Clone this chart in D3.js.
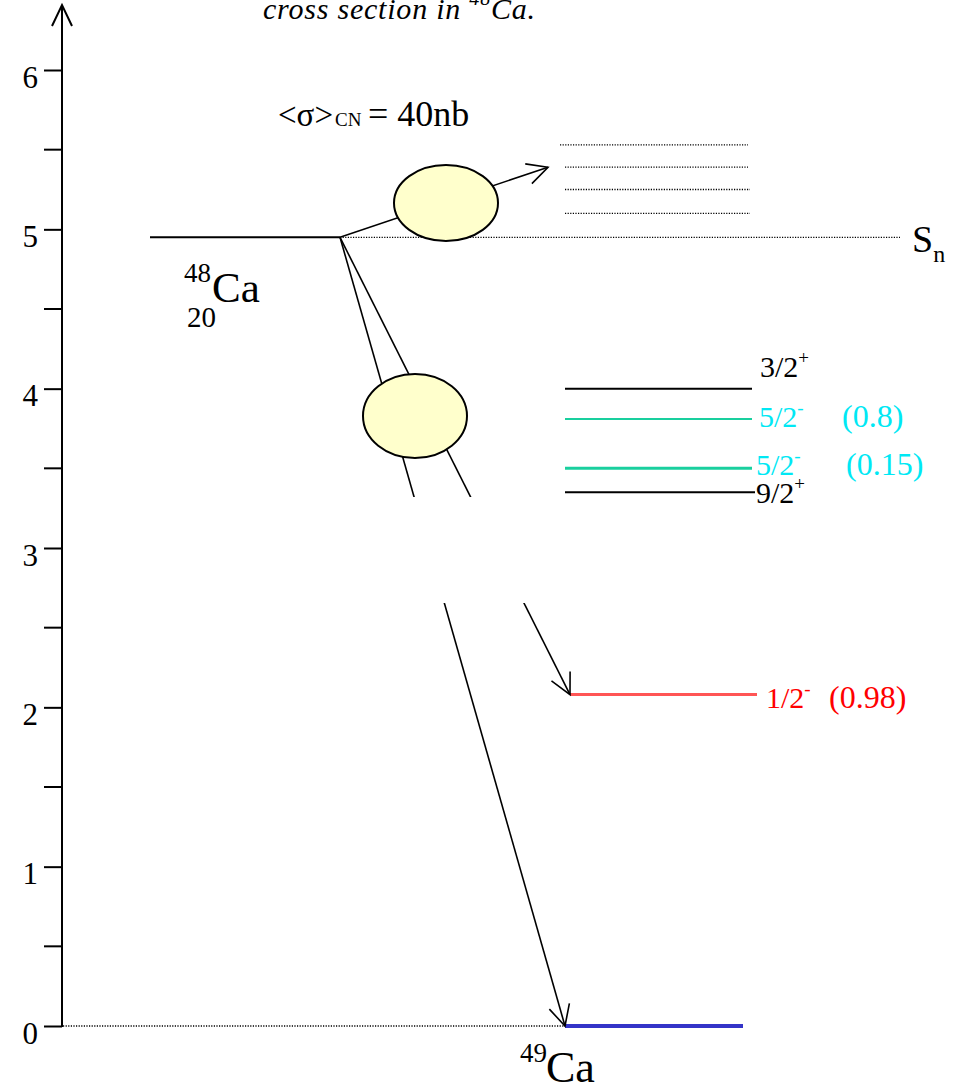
<!DOCTYPE html>
<html>
<head>
<meta charset="utf-8">
<script src="https://cdn.jsdelivr.net/npm/d3@7/dist/d3.min.js"></script>
<style>
  body { margin: 0; background: #fff; }
  svg text { font-family: "Liberation Serif", "Times New Roman", serif; }
</style>
</head>
<body>
<svg id="scheme" width="956" height="1088" font-family="Liberation Serif"></svg>
<script>
// energies in MeV
var majorTicks = [0, 1, 2, 3, 4, 5, 6];
var minorTicks = [0.5, 1.5, 2.5, 3.5, 4.5, 5.5];
var snEnergy = 4.95;                       // 48Ca + n threshold
var continuum = [5.53, 5.39, 5.25, 5.10];  // dotted levels above Sn
var levelEnergy = [4.00, 3.81, 3.50, 3.35, 2.08, 0];
var levelSpin = ["3/2", "5/2", "5/2", "9/2", "1/2", ""];
var levelParity = ["+", "-", "-", "+", "-", ""];
var levelStrength = ["", "(0.8)", "(0.15)", "", "(0.98)", ""];

!(function (d3) {
  var svg = d3.select("#scheme");

  var y = d3.scaleLinear().domain([0, 6]).range([1026, 70]);
  var axisX = 62;

  // look of each level, same order as levelEnergy
  var levelLook = [
    { line: "#000", text: "#000", w: 2, x1: 565, x2: 752, lx: 760, ly: -12, sx: 0 },
    { line: "#19cf9e", text: "#00e8f4", w: 2, x1: 565, x2: 752, lx: 759, ly: 8, sx: 842 },
    { line: "#19cf9e", text: "#00e8f4", w: 3, x1: 565, x2: 752, lx: 756, ly: 7, sx: 846 },
    { line: "#000", text: "#000", w: 2, x1: 565, x2: 755, lx: 756, ly: 11, sx: 0 },
    { line: "#ff5555", text: "#ff0000", w: 3, x1: 570, x2: 757, lx: 766, ly: 13, sx: 829 },
    { line: "#3434c8", text: "#000", w: 4, x1: 565, x2: 743, lx: 0, ly: 0, sx: 0 }
  ];

  // ---- energy axis
  var axis = svg.append("g")
    .attr("transform", "translate(" + axisX + ",0)")
    .call(d3.axisLeft(y).tickValues(majorTicks).tickSize(18).tickPadding(6)
      .tickFormat(d3.format("d")));
  axis.attr("font-family", null);
  axis.select(".domain").remove();
  axis.selectAll(".tick line").attr("stroke", "#000").attr("stroke-width", 2);
  axis.selectAll(".tick text")
    .attr("dy", "0.55em")
    .style("font-size", "31px")
    .attr("fill", "#000");

  svg.append("g").selectAll("line")
    .data(minorTicks)
    .enter().append("line")
    .attr("x1", axisX - 18).attr("x2", axisX)
    .attr("y1", function (d) { return y(d); })
    .attr("y2", function (d) { return y(d); })
    .attr("stroke", "#000").attr("stroke-width", 2);

  svg.append("line")
    .attr("x1", axisX).attr("x2", axisX)
    .attr("y1", y(0) + 1).attr("y2", 5)
    .attr("stroke", "#000").attr("stroke-width", 2);
  svg.append("path")
    .attr("d", "M" + (axisX - 10) + ",26L" + axisX + ",5L" + (axisX + 10) + ",26")
    .attr("fill", "none").attr("stroke", "#000").attr("stroke-width", 2);

  // ---- title, cut by the top of the picture
  var title = svg.append("text")
    .attr("x", 263).attr("y", 19)
    .attr("textLength", 272).attr("lengthAdjust", "spacing")
    .style("font-size", "30px").style("font-style", "italic");
  title.append("tspan").text("cross section in ");
  title.append("tspan").attr("dy", -14).style("font-size", "20px").text("48");
  title.append("tspan").attr("dy", 14).text("Ca.");

  var sigma = svg.append("text")
    .attr("y", 126);
  sigma.append("tspan").attr("x", 278).style("font-size", "33px").text("<\u03c3>");
  sigma.append("tspan").attr("x", 335).style("font-size", "19px").text("CN");
  sigma.append("tspan").attr("x", 368).style("font-size", "36px").text("= 40nb");

  // ---- dotted lines: ground energy, Sn, continuum
  function dotted(x1, x2, yy) {
    svg.append("line")
      .attr("x1", x1).attr("x2", x2)
      .attr("y1", yy).attr("y2", yy)
      .attr("stroke", "#000").attr("stroke-width", 1.3)
      .attr("stroke-dasharray", "1.2,1.4");
  }
  dotted(axisX + 1, 565, y(0));
  dotted(340, 900, y(snEnergy));
  var contX = [[560, 748], [565, 748], [565, 750], [565, 750]];
  continuum.forEach(function (e, i) { dotted(contX[i][0], contX[i][1], y(e)); });

  // ---- target + n entrance level
  svg.append("line")
    .attr("x1", 150).attr("x2", 340)
    .attr("y1", y(snEnergy)).attr("y2", y(snEnergy))
    .attr("stroke", "#000").attr("stroke-width", 2);

  var sn = svg.append("text").attr("x", 912).attr("y", y(snEnergy) + 15).style("font-size", "38px");
  sn.append("tspan").text("S");
  sn.append("tspan").attr("dy", 10).style("font-size", "24px").text("n");

  svg.append("text").attr("x", 184).attr("y", 282).style("font-size", "27px").text("48");
  svg.append("text").attr("x", 212).attr("y", 302).style("font-size", "43px").text("Ca");
  svg.append("text").attr("x", 187).attr("y", 327).style("font-size", "29px").text("20");

  // ---- final levels of 49Ca
  var levels = svg.append("g").selectAll("g")
    .data(levelEnergy.map(function (e, i) { return { e: e, i: i }; }))
    .enter().append("g");

  levels.append("line")
    .attr("x1", function (d) { return levelLook[d.i].x1; })
    .attr("x2", function (d) { return levelLook[d.i].x2; })
    .attr("y1", function (d) { return y(d.e); })
    .attr("y2", function (d) { return y(d.e); })
    .attr("stroke", function (d) { return levelLook[d.i].line; })
    .attr("stroke-width", function (d) { return levelLook[d.i].w; });

  levels.filter(function (d) { return levelSpin[d.i] !== ""; })
    .append("text")
    .attr("x", function (d) { return levelLook[d.i].lx; })
    .attr("y", function (d) { return y(d.e) + levelLook[d.i].ly; })
    .attr("fill", function (d) { return levelLook[d.i].text; })
    .style("font-size", "30px")
    .each(function (d) {
      var t = d3.select(this);
      t.append("tspan").text(levelSpin[d.i]);
      t.append("tspan").attr("dy", -13).style("font-size", "19px").text(levelParity[d.i]);
    });

  levels.filter(function (d) { return levelStrength[d.i] !== ""; })
    .append("text")
    .attr("x", function (d) { return levelLook[d.i].sx; })
    .attr("y", function (d) { return y(d.e) + levelLook[d.i].ly; })
    .attr("fill", function (d) { return levelLook[d.i].text; })
    .style("font-size", "32px")
    .text(function (d) { return levelStrength[d.i]; });

  svg.append("text").attr("x", 520).attr("y", 1062).style("font-size", "27px").text("49");
  svg.append("text").attr("x", 546).attr("y", 1082).style("font-size", "44px").text("Ca");

  // ---- capture paths
  function arrow(x1, y1, x2, y2) {
    var a = Math.atan2(y2 - y1, x2 - x1) + Math.PI, len = 23, h = 0.47;
    svg.append("line")
      .attr("x1", x1).attr("y1", y1).attr("x2", x2).attr("y2", y2)
      .attr("stroke", "#000").attr("stroke-width", 1.6);
    svg.append("path")
      .attr("d", "M" + (x2 + len * Math.cos(a - h)) + "," + (y2 + len * Math.sin(a - h)) +
        "L" + x2 + "," + y2 +
        "L" + (x2 + len * Math.cos(a + h)) + "," + (y2 + len * Math.sin(a + h)))
      .attr("fill", "none").attr("stroke", "#000").attr("stroke-width", 1.6);
  }
  var ox = 340, oy = y(snEnergy);
  arrow(ox, oy, 548, y(continuum[1]));
  arrow(ox, oy, 570, y(levelEnergy[4]));
  arrow(ox, oy, 565, y(levelEnergy[5]));

  // the two gamma lines are broken in the middle
  svg.append("rect")
    .attr("x", 395).attr("y", 497).attr("width", 150).attr("height", 106)
    .attr("fill", "#fff");

  svg.append("ellipse")
    .attr("cx", 446).attr("cy", 203).attr("rx", 52).attr("ry", 38)
    .attr("fill", "#ffffcc").attr("stroke", "#000").attr("stroke-width", 2);
  svg.append("ellipse")
    .attr("cx", 415).attr("cy", 416).attr("rx", 52).attr("ry", 42)
    .attr("fill", "#ffffcc").attr("stroke", "#000").attr("stroke-width", 2);

})(d3);
</script>
</body>
</html>
